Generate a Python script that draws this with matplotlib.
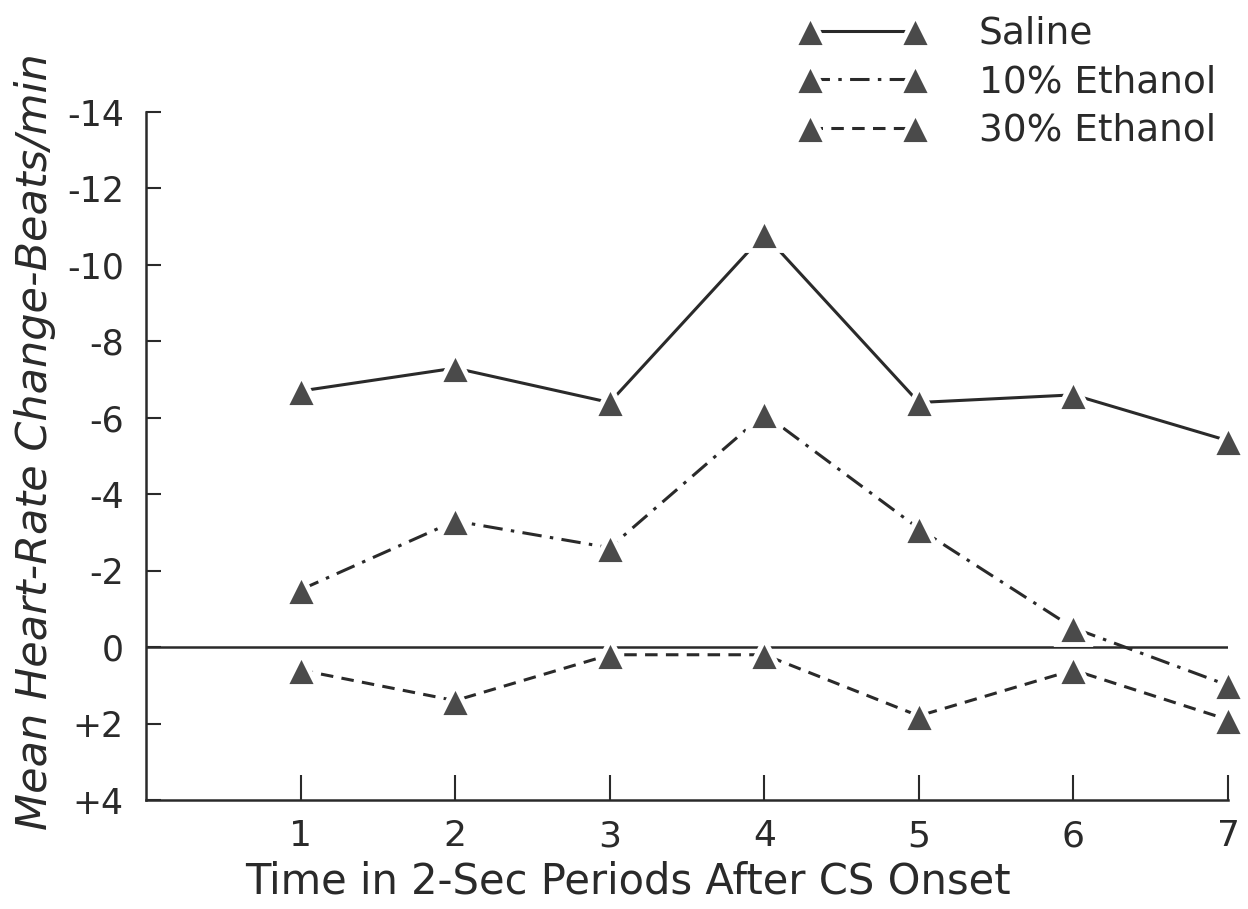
import numpy as np
import matplotlib.pyplot as plt

# mean heart-rate change (beats/min) per 2-sec period after CS onset;
# negative values = deceleration, drawn upward
periods = [1, 2, 3, 4, 5, 6, 7]
saline = [-6.7, -7.3, -6.4, -10.8, -6.4, -6.6, -5.4]
ethanol_10 = [-1.5, -3.3, -2.6, -6.1, -3.1, -0.5, 1.0]
ethanol_30 = [0.6, 1.4, 0.2, 0.2, 1.8, 0.6, 1.9]

y_ticks = [-14, -12, -10, -8, -6, -4, -2, 0, 2, 4]
y_ticklabels = ["-14", "-12", "-10", "-8", "-6", "-4", "-2", "0", "+2", "+4"]
x_ticklabels = ["1", "2", "3", "4", "5", "6", "7"]

plt.rcParams["font.family"] = ["DejaVu Sans"]
plt.rcParams["lines.scale_dashes"] = False

ink = "#2a2a2a"
fill = "#4a4a4a"

fig = plt.figure(figsize=(12.48, 9.09), dpi=100)
ax = fig.add_axes([146 / 1248, 109 / 909, 1082 / 1248, 688 / 909])

ax.axhline(0, color=ink, lw=1.8, zorder=1)

styles = [
    (saline, "Saline", "-"),
    (ethanol_10, "10% Ethanol", (0, (14, 6, 2.5, 6))),
    (ethanol_30, "30% Ethanol", (0, (9, 6))),
]
handles = []
for vals, name, ls in styles:
    h, = ax.plot(periods, vals, linestyle=ls, color=ink, lw=2.2,
                 marker="^", ms=23, mfc=fill, mec="white", mew=3.5,
                 label=name, zorder=3, clip_on=False)
    handles.append(h)

ax.set_xlim(0, 7.0)
ax.set_ylim(4, -14)

ax.set_xticks(periods)
ax.set_xticklabels(x_ticklabels)
ax.set_yticks(y_ticks)
ax.set_yticklabels(y_ticklabels)

for side in ["top", "right"]:
    ax.spines[side].set_visible(False)
for side in ["left", "bottom"]:
    ax.spines[side].set_linewidth(1.8)
    ax.spines[side].set_color(ink)

ax.tick_params(axis="x", direction="in", length=18, width=1.5, color=ink,
               pad=14, labelsize=26, labelcolor=ink)
ax.tick_params(axis="y", direction="in", length=11, width=1.5, color=ink,
               pad=16, labelsize=25, labelcolor=ink)

ax.set_xlabel("Time in 2-Sec Periods After CS Onset", fontsize=30,
              color=ink)
ax.xaxis.set_label_coords(0.445, -0.088)
fig.text(35 / 1248, 1 - 442 / 909, "Mean Heart-Rate Change-Beats/min",
         rotation=90, ha="center", va="center", fontsize=31,
         style="italic", color=ink)

leg = ax.legend(handles=handles, loc="upper left",
                bbox_to_anchor=(799 / 1248, 1 - 16 / 909),
                bbox_transform=fig.transFigure, frameon=False,
                numpoints=2, handlelength=3.4, handletextpad=1.4,
                labelspacing=0.33, fontsize=27, borderaxespad=0,
                borderpad=0)
for t in leg.get_texts():
    t.set_color(ink)

fig.savefig("out.png", dpi=100)
